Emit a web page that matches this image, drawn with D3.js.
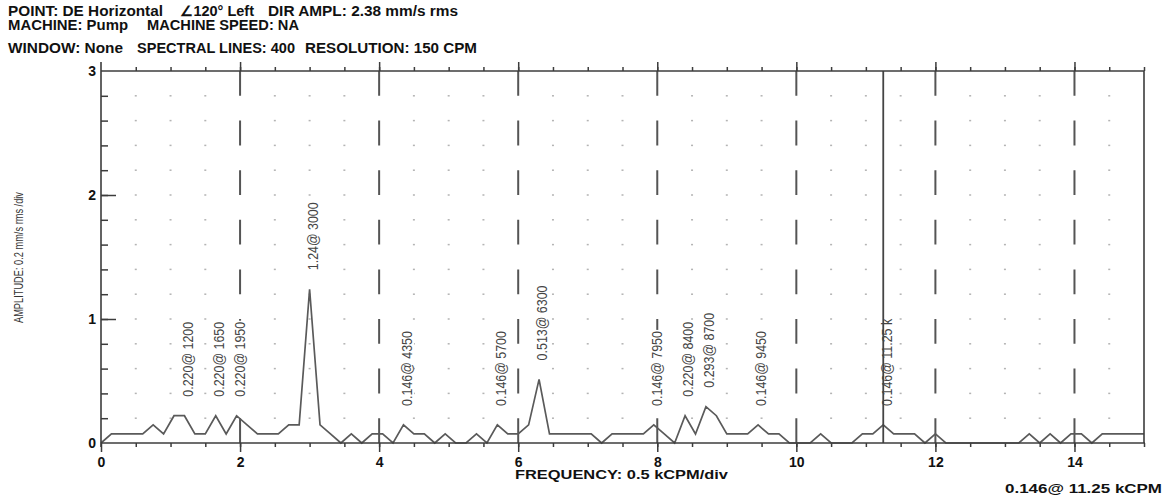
<!DOCTYPE html>
<html><head><meta charset="utf-8">
<script src="https://cdn.jsdelivr.net/npm/d3@7"></script>
<style>
html,body{margin:0;padding:0;background:#fff;}
svg{display:block;}
.hdr{font-family:"Liberation Sans",Arial,sans-serif;font-weight:bold;font-size:14px;fill:#111;}
.tick text{font-family:"Liberation Sans",Arial,sans-serif;font-weight:bold;font-size:14px;fill:#111;}
.plab{font-family:"Liberation Sans",Arial,sans-serif;font-size:15px;fill:#444;}
</style></head>
<body>
<svg id="chart" width="1169" height="499"></svg>
<script>
// ---------- data ----------
const resolutionKcpm = 0.15; // 150 CPM per spectral line
const amplitudes = [
  0, 0.073, 0.073, 0.073, 0.073, 0.146, 0.073, 0.220, 0.220, 0.073,
  0.073, 0.220, 0.073, 0.220, 0.146, 0.073, 0.073, 0.073, 0.146, 0.146,
  1.24, 0.146, 0.073, 0, 0.073, 0, 0.073, 0.073, 0, 0.146,
  0.073, 0.073, 0, 0.073, 0, 0, 0.073, 0, 0.146, 0.073,
  0.073, 0.146, 0.513, 0.073, 0.073, 0.073, 0.073, 0.073, 0, 0.073,
  0.073, 0.073, 0.073, 0.146, 0.073, 0, 0.220, 0.073, 0.293, 0.220,
  0.073, 0.073, 0.073, 0.146, 0.073, 0.073, 0, 0, 0, 0.073,
  0, 0, 0, 0.073, 0.073, 0.146, 0.073, 0.073, 0.073, 0,
  0.073, 0, 0, 0, 0, 0, 0, 0, 0, 0.073,
  0, 0.073, 0, 0.073, 0.073, 0, 0.073, 0.073, 0.073, 0.073,
  0.073
];
const peakFreqs  = [1.2, 1.65, 1.95, 3.0, 4.35, 5.7, 6.3, 7.95, 8.4, 8.7, 9.45, 11.25];
const peakAmps   = [0.220, 0.220, 0.220, 1.24, 0.146, 0.146, 0.513, 0.146, 0.220, 0.293, 0.146, 0.146];
const peakLabels = ["0.220@ 1200","0.220@ 1650","0.220@ 1950","1.24@ 3000","0.146@ 4350","0.146@ 5700",
                    "0.513@ 6300","0.146@ 7950","0.220@ 8400","0.293@ 8700","0.146@ 9450","0.146@ 11.25 k"];
const cursorFreq = 11.25;
const xMajorTicks = [0, 2, 4, 6, 8, 10, 12, 14];
const xMinorTicks = d3.range(1, 31).map(i => i * 0.5);
const yLabelTicks = [0, 1, 2, 3];
const yMinorTicks = d3.range(1, 15).map(i => i * 0.2);
const headerLines = [
  ["POINT: DE Horizontal", "\u2220120\u00B0 Left", "DIR AMPL: 2.38 mm/s rms"],
  ["MACHINE: Pump", "MACHINE SPEED: NA"],
  ["WINDOW: None", "SPECTRAL LINES: 400", "RESOLUTION: 150 CPM"]
];
const xTitle = "FREQUENCY: 0.5 kCPM/div";
const yTitle = "AMPLITUDE: 0.2 mm/s rms /div";
const cursorReadout = "0.146@ 11.25 kCPM";

// ---------- layout ----------
const svg = d3.select("#chart");
const L = 101, R = 1144, T = 71, B = 443;
const x = d3.scaleLinear().domain([0, 15]).range([L, R]);
const y = d3.scaleLinear().domain([0, 3]).range([B, T]);
const axisColor = "#3c3c3c";

// header
const hdrPos = [
  [{x: 8, w: 155}, {x: 180, w: 74}, {x: 268, w: 190}],
  [{x: 8, w: 120}, {x: 147, w: 152}],
  [{x: 8, w: 115}, {x: 137, w: 158}, {x: 305, w: 172}]
];
const hdrBase = [16, 30, 53];
headerLines.forEach((line, li) => {
  line.forEach((s, si) => {
    svg.append("text").attr("class", "hdr")
      .attr("x", hdrPos[li][si].x).attr("y", hdrBase[li])
      .attr("textLength", hdrPos[li][si].w).attr("lengthAdjust", "spacingAndGlyphs")
      .text(s);
  });
});

// grid dots
const dotX = xMinorTicks.filter(v => v < 15 && Math.abs(v / 2 - Math.round(v / 2)) > 1e-9);
const dotY = yMinorTicks;
const dots = [];
dotX.forEach(a => dotY.forEach(b => dots.push([a, b])));
svg.append("g").selectAll("rect").data(dots).join("rect")
  .attr("x", d => x(d[0]) - 1).attr("y", d => y(d[1]) - 0.75)
  .attr("width", 2).attr("height", 1.5).attr("fill", "#b4b4b4");

// dashed major verticals
const dashLen = y(0) - y(0.2);
svg.append("g").selectAll("line").data(xMajorTicks.filter(v => v > 0)).join("line")
  .attr("x1", d => x(d)).attr("x2", d => x(d))
  .attr("y1", y(3)).attr("y2", y(0))
  .attr("stroke", "#555").attr("stroke-width", 2)
  .attr("stroke-dasharray", dashLen + "," + dashLen);

// peak labels (with white knock-out background)
const labG = svg.append("g").selectAll("g")
  .data(peakFreqs.map((f, i) => ({f, v: peakAmps[i], t: peakLabels[i]}))).join("g")
  .attr("transform", d => `translate(${x(d.f) + 3},${y(d.v) - 19}) rotate(-90) scale(0.83,1)`);
labG.append("text").attr("class", "plab")
  .attr("dy", "0.35em").attr("text-anchor", "start")
  .text(d => d.t);
labG.each(function () {
  const g = d3.select(this);
  const bb = g.select("text").node().getBBox();
  g.insert("rect", "text").attr("x", bb.x - 1).attr("y", bb.y + 1)
    .attr("width", bb.width + 2).attr("height", bb.height - 2).attr("fill", "#fff");
});

// bottom axis: minor ticks + major ticks with labels
const gxMinor = svg.append("g").attr("transform", `translate(0,${B})`)
  .call(d3.axisBottom(x).tickValues(xMinorTicks).tickSize(4).tickFormat(""));
const gxMajor = svg.append("g").attr("transform", `translate(0,${B})`)
  .call(d3.axisBottom(x).tickValues(xMajorTicks).tickSize(9).tickPadding(5).tickFormat(d3.format("d")));
// top axis ticks
const gtMinor = svg.append("g").attr("transform", `translate(0,${T})`)
  .call(d3.axisTop(x).tickValues(xMinorTicks).tickSize(4).tickFormat(""));
const gtMajor = svg.append("g").attr("transform", `translate(0,${T})`)
  .call(d3.axisTop(x).tickValues(xMajorTicks.filter(v => v > 0)).tickSize(9).tickFormat(""));
// y axis ticks (inside) and labels (outside)
const gyMinor = svg.append("g").attr("transform", `translate(${L},0)`)
  .call(d3.axisRight(y).tickValues(yMinorTicks).tickSize(7).tickFormat(""));
const gyMajor = svg.append("g").attr("transform", `translate(${L},0)`)
  .call(d3.axisRight(y).tickValues([1, 2]).tickSize(15).tickFormat(""));
const gyLab = svg.append("g").attr("transform", `translate(${L},0)`)
  .call(d3.axisLeft(y).tickValues(yLabelTicks).tickSize(0).tickPadding(5).tickFormat(d3.format("d")));
[gxMinor, gxMajor, gtMinor, gtMajor, gyMinor, gyMajor, gyLab].forEach(g => {
  g.select(".domain").remove();
  g.selectAll("line").attr("stroke", axisColor).attr("stroke-width", 1.5);
});

// spectrum
const spec = amplitudes.map((v, i) => ({f: i * resolutionKcpm, v}));
svg.append("path").datum(spec)
  .attr("d", d3.line().x(d => x(d.f)).y(d => y(d.v)))
  .attr("fill", "none").attr("stroke", "#5a5a5a").attr("stroke-width", 1.7)
  .attr("stroke-linejoin", "miter");

// cursor line
svg.append("line").attr("x1", x(cursorFreq)).attr("x2", x(cursorFreq))
  .attr("y1", y(3)).attr("y2", y(0)).attr("stroke", "#444").attr("stroke-width", 1.8);

// frame
const frame = svg.append("g").attr("stroke", axisColor).attr("stroke-width", 1.6).attr("fill", "none");
frame.append("line").attr("x1", L).attr("x2", L).attr("y1", T - 9).attr("y2", B + 4);
frame.append("line").attr("x1", L).attr("x2", R + 1).attr("y1", B).attr("y2", B);
frame.append("line").attr("x1", L).attr("x2", R).attr("y1", T).attr("y2", T);
frame.append("line").attr("x1", R).attr("x2", R).attr("y1", T).attr("y2", B);

// axis titles
svg.append("text").attr("class", "hdr").style("font-size", "12.5px")
  .attr("x", 515).attr("y", 479).attr("textLength", 213).attr("lengthAdjust", "spacingAndGlyphs")
  .text(xTitle);
svg.append("text").attr("class", "hdr").style("font-size", "13px")
  .attr("x", 1005).attr("y", 493).attr("textLength", 157).attr("lengthAdjust", "spacingAndGlyphs")
  .text(cursorReadout);
svg.append("text")
  .attr("transform", `translate(23,${(192 + 323) / 2}) rotate(-90)`)
  .attr("text-anchor", "middle")
  .attr("textLength", 131).attr("lengthAdjust", "spacingAndGlyphs")
  .style("font-family", "'Liberation Sans',Arial,sans-serif").style("font-size", "13px").style("fill", "#333")
  .text(yTitle);
</script>
</body></html>
